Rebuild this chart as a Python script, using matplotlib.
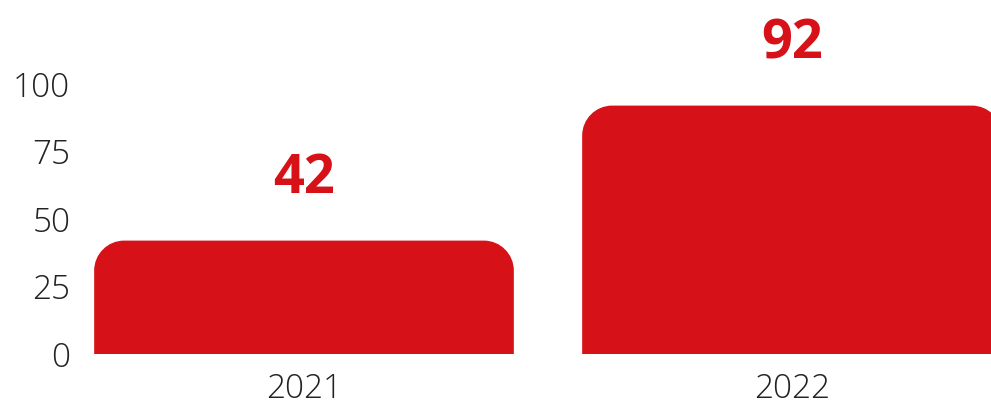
import numpy as np
import matplotlib
matplotlib.use("Agg")
import matplotlib.pyplot as plt
from matplotlib.path import Path
from matplotlib.patches import PathPatch

years = ["2021", "2022"]
values = [42, 92]
yticks = [0, 25, 50, 75, 100]

RED = "#d71118"
W, H = 991, 405

fig = plt.figure(figsize=(W / 100, H / 100), dpi=100)
ax = fig.add_axes([80 / W, (H - 354) / H, (W - 80) / W, 270 / H])

x = np.arange(len(years))
bars = ax.bar(x, values, width=0.86, color=RED)
ax.set_xlim(-(304 - 80) / 488, (W - 304) / 488)
ax.set_ylim(0, 100)

# swap plain bars for ones with rounded top corners (radius in pixels)
radius_px = 30
p = ax.transData.transform([(0, 0), (1, 1)])
rx = radius_px / (p[1, 0] - p[0, 0])
ry = radius_px / (p[1, 1] - p[0, 1])
k = 0.5523
for b in bars:
    x0, x1 = b.get_x(), b.get_x() + b.get_width()
    y1 = b.get_height()
    verts = [(x0, 0), (x0, y1 - ry),
             (x0, y1 - ry + k * ry), (x0 + rx - k * rx, y1), (x0 + rx, y1),
             (x1 - rx, y1),
             (x1 - rx + k * rx, y1), (x1, y1 - ry + k * ry), (x1, y1 - ry),
             (x1, 0), (x0, 0)]
    codes = [Path.MOVETO, Path.LINETO,
             Path.CURVE4, Path.CURVE4, Path.CURVE4,
             Path.LINETO,
             Path.CURVE4, Path.CURVE4, Path.CURVE4,
             Path.LINETO, Path.CLOSEPOLY]
    ax.add_patch(PathPatch(Path(verts, codes), facecolor=RED, edgecolor="none"))
    b.set_visible(False)
    ax.annotate(f"{y1:g}", (b.get_x() + b.get_width() / 2, y1), xytext=(0, 34),
                textcoords="offset points", ha="center", va="baseline",
                fontsize=39, fontweight="bold", color=RED, family="Open Sans",
                annotation_clip=False)

ax.set_xticks(x)
ax.set_xticklabels(years)
ax.set_yticks(yticks)
for s in ax.spines.values():
    s.set_visible(False)
ax.tick_params(length=0, labelsize=24, colors="#222222")
ax.tick_params(axis="y", pad=7)
ax.tick_params(axis="x", pad=13.5)
for lab in ax.get_xticklabels() + ax.get_yticklabels():
    lab.set_family("Open Sans")
    lab.set_fontweight("light")

fig.savefig("out.png", dpi=100)
